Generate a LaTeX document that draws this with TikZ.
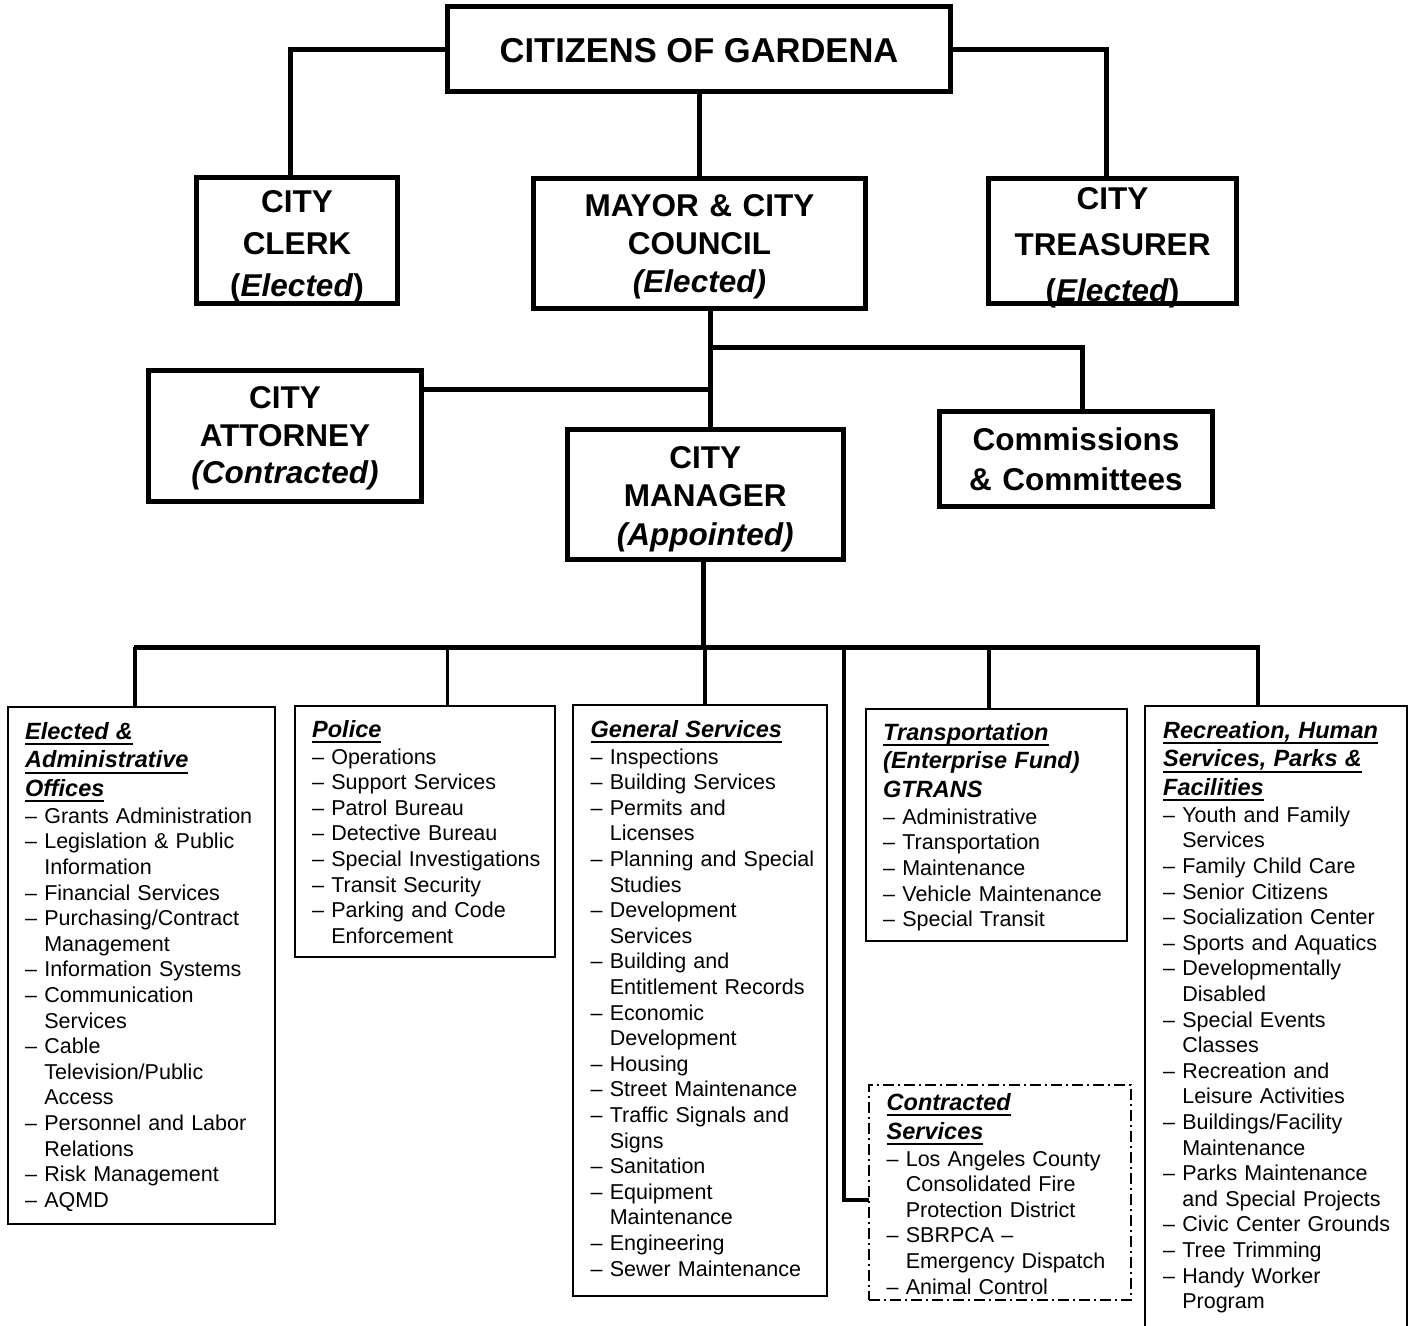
\documentclass[tikz,border=0pt]{standalone}
\usepackage{fontspec}
\setmainfont{Liberation Sans}
\newcommand\itemfont{\fontsize{21.5pt}{25.6pt}\selectfont}
\newcommand\headfont{\fontsize{23.5pt}{25.6pt}\selectfont\bfseries\itshape}
\newsavebox\hdbox
\newcommand\hd[1]{\leavevmode{\headfont\sbox\hdbox{#1}\rlap{\rule[-6pt]{\wd\hdbox}{2pt}}\usebox\hdbox}}
\newcommand\hdn[1]{\leavevmode{\headfont #1}}
\newcommand\dsh{\leavevmode\textendash\ }
\newcommand\cnt{\leavevmode\hphantom{\textendash\ }}
\newcommand\fl{\noindent\rule{0pt}{20pt}}
\newcommand\ft{\noindent\rule{0pt}{26pt}}
\newcommand\hs{\\[3pt]}
\newcommand\hi{\\[1.2pt]}
\begin{document}
\begin{tikzpicture}[x=1pt,y=-1pt,
  topbox/.style={draw, line width=5pt, rectangle, inner sep=0pt, outer sep=0pt, anchor=north west},
  listbox/.style={draw, line width=2pt, rectangle, inner sep=0pt, outer sep=0pt, anchor=north west},
  cbox/.style={draw, line width=2pt, rectangle, inner sep=0pt, outer sep=0pt, anchor=north west, dash pattern=on 11pt off 4pt on 2pt off 4pt},
  toptxt/.style={anchor=north, inner sep=0pt, align=center, text width=#1, font=\fontsize{31.5pt}{38pt}\selectfont\bfseries},
  listtxt/.style={anchor=north west, inner sep=0pt, align=left, text width=#1, font=\itemfont},
  conn/.style={line width=5pt},
  drop/.style={line width=3.5pt}
]
\useasboundingbox (0,0) rectangle (1413,1325);
\clip (0,0) rectangle (1413,1325);

% ---------- boxes ----------
\node[topbox, minimum width=503pt, minimum height=85pt] (citizens) at (447.5,6.5) {};
\node[topbox, minimum width=201pt, minimum height=126pt] (clerk) at (196.5,177.5) {};
\node[topbox, minimum width=332pt, minimum height=130pt] (mayor) at (533.5,178.5) {};
\node[topbox, minimum width=248pt, minimum height=125pt] (treasurer) at (988.5,178.5) {};
\node[topbox, minimum width=273pt, minimum height=131pt] (attorney) at (148.5,370.5) {};
\node[topbox, minimum width=275.5pt, minimum height=130pt] (manager) at (567.5,429) {};
\node[topbox, minimum width=273pt, minimum height=95pt] (commissions) at (939.5,411.5) {};
\node[listbox, minimum width=267pt, minimum height=517pt] (elected) at (8,707) {};
\node[listbox, minimum width=260pt, minimum height=251pt] (police) at (295,706) {};
\node[listbox, minimum width=254pt, minimum height=591pt] (general) at (573,705) {};
\node[listbox, minimum width=261pt, minimum height=232pt] (transport) at (866,709) {};
\node[listbox, minimum width=261.5pt, minimum height=630pt] (recreation) at (1145,706) {};
\node[cbox, minimum width=262pt, minimum height=215pt] (contracted) at (869,1085) {};

% ---------- upper connectors ----------
\draw[conn] (citizens.west) -| ([xshift=-6.5pt]clerk.north);
\draw[conn] (citizens.east) -| ([xshift=-6.5pt]treasurer.north);
\draw[conn] (citizens.south) -- (citizens.south |- mayor.north);
\coordinate (mt) at ([xshift=11pt]mayor.south);
\draw[conn] (mt) -- (mt |- manager.north);
\coordinate (cj) at ([xshift=11pt,yshift=-38.5pt]mayor.south);
\draw[conn] (cj) -| ([xshift=6.5pt]commissions.north);
\coordinate (aj) at ([yshift=47pt]attorney.east);
\draw[conn] (aj) -- (aj -| mt);

% ---------- bus and drops ----------
\coordinate (busL) at (133.5,647);
\coordinate (busR) at (1260,647);
\draw[conn] (busL) -- (busR);
\coordinate (mb) at ([xshift=-1.5pt]manager.south);
\draw[conn] (mb) -- (mb |- busL);
\coordinate (d1) at ([xshift=-6.5pt]elected.north);
\draw[drop] (d1) -- (d1 |- busL);
\coordinate (d2) at ([xshift=22.5pt]police.north);
\draw[drop] (d2) -- (d2 |- busL);
\coordinate (d3) at ([xshift=5pt]general.north);
\draw[drop] (d3) -- (d3 |- busL);
\coordinate (d4) at ([xshift=-7.5pt]transport.north);
\draw[drop] (d4) -- (d4 |- busL);
\coordinate (d5) at ([xshift=-18pt]recreation.north);
\draw[drop] (d5) -- (d5 |- busL);
\coordinate (busC) at (844,647);
\coordinate (cin) at ([yshift=-7.5pt]contracted.west);
\draw[drop] (busC) |- (cin);

% ---------- top texts ----------
\node[anchor=base, inner sep=0pt, font=\fontsize{34.5pt}{40pt}\selectfont\bfseries] (citizenstxt) at (699,62) {CITIZENS OF GARDENA};
\node[toptxt=190pt] (clerktxt) at (297,186.5) {\ft CITY\\[4pt] CLERK\\[4pt] (\textit{Elected})};
\node[toptxt=320pt] (mayortxt) at (699.5,190) {\ft MAYOR \& CITY\\ COUNCIL\\ \textit{(Elected)}};
\node[toptxt=240pt] (treasurertxt) at (1112.5,183.5) {\ft CITY\\[8pt] TREASURER\\[8pt] (\textit{Elected})};
\node[toptxt=260pt] (attorneytxt) at (285,382.5) {\ft CITY\\[-0.5pt] ATTORNEY\\[-0.5pt] \textit{(Contracted)}};
\node[toptxt=265pt] (managertxt) at (705.25,442) {\ft CITY\\[0.5pt] MANAGER\\[0.5pt] \textit{(Appointed)}};
\node[toptxt=265pt] (commissionstxt) at (1076,424.5) {\ft Commissions\\[1.5pt] \& Committees};

% ---------- list texts ----------
\node[listtxt=248pt] (electedtxt) at (25,719) {\fl\hd{Elected \&}\hs
\hd{Administrative}\hs
\hd{Offices}\hi
\dsh Grants Administration\\
\dsh Legislation \& Public\\
\cnt Information\\
\dsh Financial Services\\
\dsh Purchasing/Contract\\
\cnt Management\\
\dsh Information Systems\\
\dsh Communication\\
\cnt Services\\
\dsh Cable\\
\cnt Television/Public\\
\cnt Access\\
\dsh Personnel and Labor\\
\cnt Relations\\
\dsh Risk Management\\
\dsh AQMD};

\node[listtxt=240pt] (policetxt) at (312,717) {\fl\hd{Police}\hi
\dsh Operations\\
\dsh Support Services\\
\dsh Patrol Bureau\\
\dsh Detective Bureau\\
\dsh Special Investigations\\
\dsh Transit Security\\
\dsh Parking and Code\\
\cnt Enforcement};

\node[listtxt=234pt] (generaltxt) at (590.5,717) {\fl\hd{General Services}\hi
\dsh Inspections\\
\dsh Building Services\\
\dsh Permits and\\
\cnt Licenses\\
\dsh Planning and Special\\
\cnt Studies\\
\dsh Development\\
\cnt Services\\
\dsh Building and\\
\cnt Entitlement Records\\
\dsh Economic\\
\cnt Development\\
\dsh Housing\\
\dsh Street Maintenance\\
\dsh Traffic Signals and\\
\cnt Signs\\
\dsh Sanitation\\
\dsh Equipment\\
\cnt Maintenance\\
\dsh Engineering\\
\dsh Sewer Maintenance};

\node[listtxt=240pt] (transporttxt) at (883,720) {\fl\hd{Transportation}\hs
\hdn{(Enterprise Fund)}\hs
\hdn{GTRANS}\hi
\dsh Administrative\\
\dsh Transportation\\
\dsh Maintenance\\
\dsh Vehicle Maintenance\\
\dsh Special Transit};

\node[listtxt=242pt] (recreationtxt) at (1163,718) {\fl\hd{Recreation, Human}\hs
\hd{Services, Parks \&}\hs
\hd{Facilities}\hi
\dsh Youth and Family\\
\cnt Services\\
\dsh Family Child Care\\
\dsh Senior Citizens\\
\dsh Socialization Center\\
\dsh Sports and Aquatics\\
\dsh Developmentally\\
\cnt Disabled\\
\dsh Special Events\\
\cnt Classes\\
\dsh Recreation and\\
\cnt Leisure Activities\\
\dsh Buildings/Facility\\
\cnt Maintenance\\
\dsh Parks Maintenance\\
\cnt and Special Projects\\
\dsh Civic Center Grounds\\
\dsh Tree Trimming\\
\dsh Handy Worker\\
\cnt Program};

\node[listtxt=240pt] (contractedtxt) at (886.5,1090) {\fl\hd{Contracted}\\[3.5pt]
\hd{Services}\hi
\dsh Los Angeles County\\
\cnt Consolidated Fire\\
\cnt Protection District\\
\dsh SBRPCA \textendash\\
\cnt Emergency Dispatch\\
\dsh Animal Control};
\end{tikzpicture}
\end{document}
